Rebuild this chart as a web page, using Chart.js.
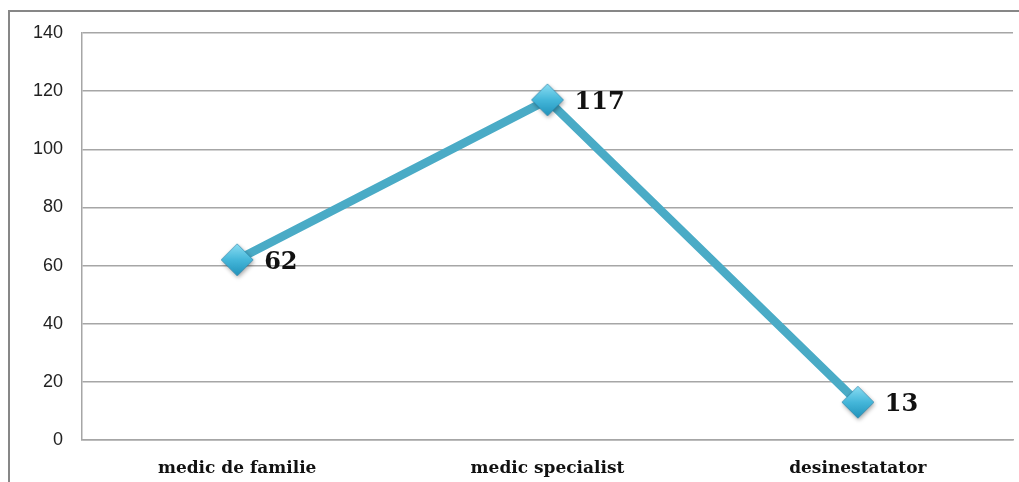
<!DOCTYPE html>
<html>
<head>
<meta charset="utf-8">
<script src="https://cdn.jsdelivr.net/npm/chart.js@4/dist/chart.umd.min.js"></script>
<style>
    html, body { margin: 0; padding: 0; background: #fff; overflow: hidden; }
    #wrap { position: relative; width: 1019px; height: 482px; }
    #frame {
        position: absolute; left: 8px; top: 10px; width: 1030px; height: 500px;
        border-left: 2px solid #878787; border-top: 2px solid #878787;
        box-sizing: border-box;
    }
    canvas { position: absolute; left: 0; top: 0; }
</style>
</head>
<body>
<div id="wrap">
    <div id="frame"></div>
    <canvas id="chart" width="1019" height="482"></canvas>
</div>
<script>
// categorii si valori
const CATEGORIES = ['medic de familie', 'medic specialist', 'desinestatator'];
const VALUES     = [62, 117, 13];
const Y_TICKS    = [0, 20, 40, 60, 80, 100, 120, 140];

const LINE_COLOR = '#4AABC6';

// ── marker romb cu gradient si umbra ──
function makeDiamond(r) {
    const size = r * 2 + 12;
    const c = document.createElement('canvas');
    c.width = size; c.height = size;
    const ctx = c.getContext('2d');
    const cx = size / 2, cy = size / 2;
    const g = ctx.createLinearGradient(0, cy - r, 0, cy + r);
    g.addColorStop(0, '#8ADDF2');
    g.addColorStop(0.5, '#45B7DA');
    g.addColorStop(1, '#2193BB');
    ctx.shadowColor = 'rgba(0,0,0,0.35)';
    ctx.shadowBlur = 4;
    ctx.shadowOffsetX = 1;
    ctx.shadowOffsetY = 2;
    ctx.beginPath();
    ctx.moveTo(cx, cy - r);
    ctx.lineTo(cx + r, cy);
    ctx.lineTo(cx, cy + r);
    ctx.lineTo(cx - r, cy);
    ctx.closePath();
    ctx.fillStyle = g;
    ctx.fill();
    ctx.shadowColor = 'transparent';
    ctx.strokeStyle = 'rgba(30,120,160,0.6)';
    ctx.lineWidth = 1;
    ctx.stroke();
    return c;
}

// ── etichete cu valori langa puncte ──
const valueLabels = {
    id: 'valueLabels',
    afterDatasetsDraw(chart) {
        const ctx = chart.ctx;
        const meta = chart.getDatasetMeta(0);
        ctx.save();
        ctx.font = 'bold 24px "DejaVu Serif"';
        ctx.fillStyle = '#111';
        ctx.textAlign = 'left';
        ctx.textBaseline = 'middle';
        meta.data.forEach((pt, i) => {
            ctx.fillText(String(VALUES[i]), pt.x + 27, pt.y + 3);
        });
        ctx.restore();
    }
};

new Chart(document.getElementById('chart').getContext('2d'), {
    type: 'line',
    data: {
        labels: CATEGORIES,
        datasets: [{
            data: VALUES,
            borderColor: LINE_COLOR,
            borderWidth: 8.5,
            tension: 0,
            pointStyle: makeDiamond(16),
            pointRadius: 16,
            pointHoverRadius: 16
        }]
    },
    options: {
        responsive: false,
        animation: false,
        devicePixelRatio: 1,
        layout: {
            autoPadding: false,
            padding: { left: 0, right: 6, top: 33, bottom: 0 }
        },
        plugins: {
            legend: { display: false },
            tooltip: { enabled: false }
        },
        scales: {
            x: {
                offset: true,
                grid: { display: false, drawTicks: false },
                border: { display: true, color: '#A6A6A6', width: 1.5 },
                ticks: {
                    padding: 18,
                    color: '#111',
                    font: { family: '"DejaVu Serif"', weight: 'bold', size: 17 }
                },
                afterFit: s => {
                    s.height = 42;
                    s.paddingLeft = 0;
                    s.paddingRight = 0;
                }
            },
            y: {
                min: 0,
                max: 140,
                afterBuildTicks: s => { s.ticks = Y_TICKS.map(v => ({ value: v })); },
                grid: { color: '#A6A6A6', lineWidth: 1.5, drawTicks: false },
                border: { display: true, color: '#A6A6A6', width: 1.5 },
                ticks: {
                    padding: 19,
                    color: '#222',
                    font: { family: '"Liberation Sans"', size: 18 }
                },
                afterFit: s => { s.width = 82; }
            }
        }
    },
    plugins: [valueLabels]
});
</script>
</body>
</html>
